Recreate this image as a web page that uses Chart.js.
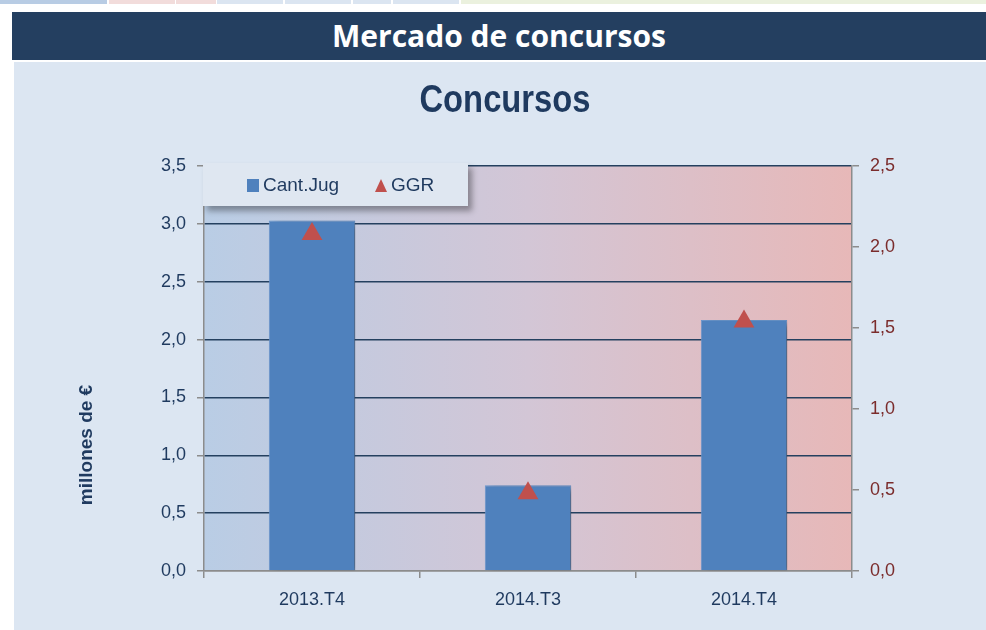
<!DOCTYPE html>
<html>
<head>
<meta charset="utf-8">
<script src="https://cdn.jsdelivr.net/npm/chart.js@4"></script>
<style>
  body { margin: 0; width: 986px; height: 630px; background: #ffffff; position: relative; overflow: hidden; }
  .strip { position: absolute; top: 0; height: 4px; }
  #cabecera {
    position: absolute; left: 12px; top: 12px; width: 974px; height: 48px;
    background: #243f60; color: #fff; text-align: center;
    font: bold 30px "Open Sans", "Liberation Sans", sans-serif; line-height: 48px;
  }
  #panel { position: absolute; left: 14px; top: 62px; width: 972px; height: 568px; background: #dce6f2; }
  #leyenda {
    position: absolute; left: 203px; top: 163px; width: 265px; height: 43px;
    background: #dfe7f1; box-shadow: 4px 5px 6px rgba(0,0,0,0.35);
    font: 19px "Liberation Sans", sans-serif; color: #1f3a5f;
  }
  .item { position: absolute; top: 11px; line-height: 22px; }
  .marca { display: inline-block; vertical-align: -1px; margin-right: 4px; }
</style>
</head>
<body>
<div class="strip" style="left:0;width:107px;background:#b8cce4"></div>
<div class="strip" style="left:109px;width:66px;background:#f2dcdb"></div>
<div class="strip" style="left:176px;width:40px;background:#f2dcdb"></div>
<div class="strip" style="left:217px;width:66px;background:#dbe5f1"></div>
<div class="strip" style="left:285px;width:66px;background:#dbe5f1"></div>
<div class="strip" style="left:353px;width:38px;background:#dbe5f1"></div>
<div class="strip" style="left:393px;width:66px;background:#dbe5f1"></div>
<div class="strip" style="left:461px;width:525px;background:#ebf1de"></div>
<div id="cabecera">Mercado de concursos</div>
<div id="panel"><canvas id="grafico" width="972" height="568"></canvas></div>
<div id="leyenda"></div>
<script>
// Datos
var periodos = ['2013.T4', '2014.T3', '2014.T4'];
var cantJug = [3.03, 0.74, 2.17];   // millones de €, eje izquierdo
var ggr = [2.08, 0.48, 1.54];       // eje derecho
var ejeIzq = { min: 0, max: 3.5, paso: 0.5 };
var ejeDer = { min: 0, max: 2.5, paso: 0.5 };
var titulo = 'Concursos';
var tituloEje = 'millones de €';

var navy = '#1f3a5f';
var gris = '#8c8c8c';
var fuente = '"Liberation Sans", Arial, sans-serif';

function coma(v) { return Number(v).toFixed(1).replace('.', ','); }

// Fondo degradado del area de trazado
var fondoPlugin = {
  id: 'fondo',
  beforeDraw: function (chart) {
    var a = chart.chartArea, ctx = chart.ctx;
    var g = ctx.createLinearGradient(a.left, 0, a.right, 0);
    g.addColorStop(0, '#b9cde5');
    g.addColorStop(0.5, '#d3c6d6');
    g.addColorStop(1, '#e7b8b8');
    ctx.save();
    ctx.fillStyle = g;
    ctx.fillRect(a.left, a.top, a.right - a.left, a.bottom - a.top);
    ctx.restore();
  }
};

// Sombra de las barras
var sombraPlugin = {
  id: 'sombra',
  beforeDatasetDraw: function (chart, args) {
    if (args.index !== 0) return;
    var ctx = chart.ctx;
    ctx.save();
    ctx.shadowColor = 'rgba(0,0,0,0.4)';
    ctx.shadowBlur = 7;
    ctx.shadowOffsetX = 6;
    ctx.shadowOffsetY = 3;
  },
  afterDatasetDraw: function (chart, args) {
    if (args.index !== 0) return;
    chart.ctx.restore();
  }
};

// Titulo (letra estrecha) y titulo del eje, dibujados en el canvas
var textosPlugin = {
  id: 'textos',
  afterDraw: function (chart) {
    var ctx = chart.ctx;
    ctx.save();
    ctx.fillStyle = navy;
    ctx.textAlign = 'center';
    ctx.textBaseline = 'middle';
    ctx.translate(491, 39);
    ctx.scale(0.84, 1);
    ctx.font = 'bold 39px ' + fuente;
    ctx.fillText(titulo, 0, 0);
    ctx.restore();

    ctx.save();
    ctx.fillStyle = navy;
    ctx.textAlign = 'center';
    ctx.textBaseline = 'middle';
    ctx.translate(73, 383);
    ctx.rotate(-Math.PI / 2);
    ctx.font = 'bold 19px ' + fuente;
    ctx.fillText(tituloEje, 0, 0);
    ctx.restore();
  }
};

var ctx = document.getElementById('grafico').getContext('2d');
var grafico = new Chart(ctx, {
  data: {
    labels: periodos,
    datasets: [{
      type: 'bar',
      label: 'Cant.Jug',
      data: cantJug,
      yAxisID: 'y',
      backgroundColor: '#4f81bd',
      borderColor: '#6a96cc',
      borderWidth: 1,
      barPercentage: 0.4,
      categoryPercentage: 1,
      order: 2
    }, {
      type: 'line',
      label: 'GGR',
      data: ggr,
      yAxisID: 'y1',
      showLine: false,
      pointStyle: 'triangle',
      pointRadius: 12,
      pointHoverRadius: 12,
      backgroundColor: '#c0504d',
      borderColor: '#c0504d',
      borderWidth: 0,
      order: 1
    }]
  },
  options: {
    responsive: false,
    animation: false,
    layout: { padding: { left: 63, right: 0, top: 104, bottom: 0 } },
    plugins: {
      legend: { display: false },
      tooltip: { enabled: false },
      title: { display: false }
    },
    scales: {
      x: {
        offset: true,
        grid: { offset: true, drawOnChartArea: false, color: gris, tickLength: 7, lineWidth: 1.5 },
        border: { color: gris, width: 1.5 },
        ticks: { color: navy, padding: 11, font: { family: fuente, size: 18 } },
        afterFit: function (s) { s.height = 59; }
      },
      y: {
        position: 'left',
        min: ejeIzq.min, max: ejeIzq.max,
        ticks: { stepSize: ejeIzq.paso, color: navy, padding: 11, font: { family: fuente, size: 18 }, callback: coma },
        grid: {
          color: function (c) { return c.tick && c.tick.value === 0 ? gris : '#24405f'; },
          lineWidth: 1.5, tickColor: gris, tickLength: 7
        },
        border: { color: gris, width: 1.5 },
        afterFit: function (s) { s.width = 127; }
      },
      y1: {
        position: 'right',
        min: ejeDer.min, max: ejeDer.max,
        ticks: { stepSize: ejeDer.paso, color: '#7b2c2c', padding: 11, font: { family: fuente, size: 18 }, callback: coma },
        grid: { drawOnChartArea: false, color: gris, lineWidth: 1.5, tickLength: 7 },
        border: { color: gris, width: 1.5 },
        afterFit: function (s) { s.width = 134; }
      }
    }
  },
  plugins: [fondoPlugin, sombraPlugin, textosPlugin]
});

// Leyenda HTML dentro del area de trazado
var leyenda = document.getElementById('leyenda');
var posiciones = [44, 172];
grafico.data.datasets.forEach(function (ds, i) {
  var item = document.createElement('div');
  item.className = 'item';
  item.style.left = posiciones[i] + 'px';
  var marca;
  if (ds.type === 'bar') {
    marca = '<span class="marca" style="width:12px;height:13px;background:' + ds.backgroundColor + '"></span>';
  } else {
    marca = '<span class="marca" style="width:0;height:0;border-left:6px solid transparent;border-right:6px solid transparent;border-bottom:13px solid ' + ds.backgroundColor + '"></span>';
  }
  item.innerHTML = marca + ds.label;
  leyenda.appendChild(item);
});
</script>
</body>
</html>
